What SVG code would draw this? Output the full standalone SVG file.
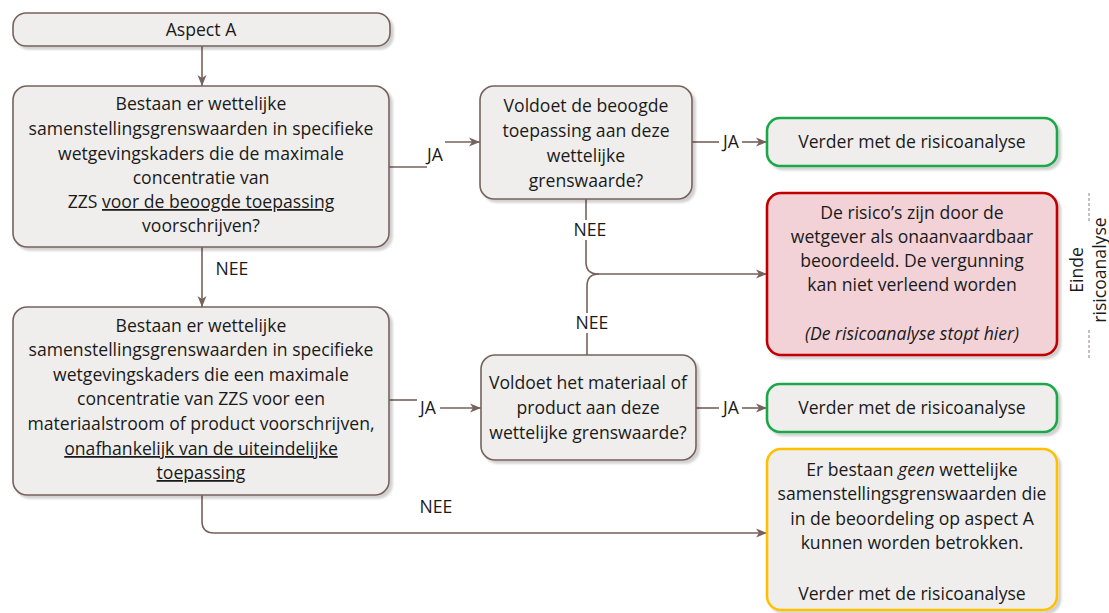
<svg xmlns="http://www.w3.org/2000/svg" width="1109" height="613" viewBox="0 0 1109 613">
<defs>
<filter id="sh" x="-5%" y="-5%" width="115%" height="120%">
<feDropShadow dx="3" dy="3" stdDeviation="1.2" flood-color="#000" flood-opacity="0.18"/>
</filter>
<marker id="ar" markerWidth="12" markerHeight="10" refX="11" refY="5" orient="auto" markerUnits="userSpaceOnUse">
<path d="M0,0.5 L11,5 L0,9.5 L3,5 Z" fill="#76625d"/>
</marker>
<style>
.box{fill:#f0eeec;stroke:#76625d;stroke-width:1.6;filter:url(#sh)}
.green{fill:#f0eeec;stroke:#1aa84a;stroke-width:2.6;filter:url(#sh)}
.red{fill:#f2d2d7;stroke:#c00000;stroke-width:2.6;filter:url(#sh)}
.yellow{fill:#f0eeec;stroke:#ffc000;stroke-width:2.6;filter:url(#sh)}
.t{font-family:"Open Sans","Noto Sans",sans-serif;font-size:17.6px;fill:#1a1a1a;text-anchor:middle}
.l{font-family:"Open Sans","Noto Sans",sans-serif;font-size:17.6px;fill:#1a1a1a;text-anchor:middle}
.c{fill:none;stroke:#76625d;stroke-width:1.6}
.u{text-decoration:underline}
.dash{stroke:#a39a95;stroke-width:1.2;stroke-dasharray:3,2}
</style>
</defs>

<g id="connectors">
<path class="c" d="M202,46 V86" marker-end="url(#ar)"/>
<path class="c" d="M389,167 H427"/>
<path class="c" d="M445,142 H480" marker-end="url(#ar)"/>
<path class="c" d="M692,142 H719"/>
<path class="c" d="M742,142 H767" marker-end="url(#ar)"/>
<path class="c" d="M586,199 V220"/>
<path class="c" d="M586,240 V262 Q586,274 598,274 H767" marker-end="url(#ar)"/>
<path class="c" d="M587,355 V333"/>
<path class="c" d="M587,313 V286 Q587,274 599,274"/>
<path class="c" d="M202,247 V307" marker-end="url(#ar)"/>
<path class="c" d="M389,400 H417"/>
<path class="c" d="M440,408 H481" marker-end="url(#ar)"/>
<path class="c" d="M696,408 H719"/>
<path class="c" d="M742,408 H767" marker-end="url(#ar)"/>
<path class="c" d="M202,495 V521 Q202,533 214,533 H767" marker-end="url(#ar)"/>
<text class="l" x="435" y="161">JA</text>
<text class="l" x="731" y="148">JA</text>
<text class="l" x="590" y="236">NEE</text>
<text class="l" x="592" y="329">NEE</text>
<text class="l" x="232" y="275">NEE</text>
<text class="l" x="428" y="414">JA</text>
<text class="l" x="731" y="414">JA</text>
<text class="l" x="436" y="513">NEE</text>
</g>

<g id="aspectA">
<rect class="box" x="13" y="13" width="377" height="33" rx="13"/>
<text class="t" x="201" y="36">Aspect A</text>
</g>

<g id="q1">
<rect class="box" x="13" y="86" width="376" height="161" rx="14"/>
<text class="t" x="201" y="110">Bestaan er wettelijke</text>
<text class="t" x="201" y="135">samenstellingsgrenswaarden in specifieke</text>
<text class="t" x="201" y="160">wetgevingskaders die de maximale</text>
<text class="t" x="201" y="184">concentratie van</text>
<text class="t" x="201" y="208">ZZS <tspan class="u">voor de beoogde toepassing</tspan></text>
<text class="t" x="201" y="232">voorschrijven?</text>
</g>

<g id="q2">
<rect class="box" x="480" y="86" width="212" height="113" rx="14"/>
<text class="t" x="586" y="112">Voldoet de beoogde</text>
<text class="t" x="586" y="137">toepassing aan deze</text>
<text class="t" x="586" y="162">wettelijke</text>
<text class="t" x="586" y="187">grenswaarde?</text>
</g>

<g id="ok1">
<rect class="green" x="767" y="118" width="290" height="48" rx="13"/>
<text class="t" x="912" y="148">Verder met de risicoanalyse</text>
</g>

<g id="stop">
<rect class="red" x="767" y="193" width="290" height="162" rx="14"/>
<text class="t" x="912" y="219">De risico’s zijn door de</text>
<text class="t" x="912" y="243">wetgever als onaanvaardbaar</text>
<text class="t" x="912" y="267">beoordeeld. De vergunning</text>
<text class="t" x="912" y="291">kan niet verleend worden</text>
<text class="t" x="912" y="340" font-style="italic">(De risicoanalyse stopt hier)</text>
</g>

<g id="einde">
<line class="dash" x1="1089" y1="193" x2="1089" y2="222"/>
<line class="dash" x1="1089" y1="330" x2="1089" y2="358"/>
<text class="t" transform="translate(1083,270) rotate(-90)">Einde</text>
<text class="t" transform="translate(1106,270) rotate(-90)">risicoanalyse</text>
</g>

<g id="q3">
<rect class="box" x="13" y="307" width="376" height="188" rx="14"/>
<text class="t" x="201" y="332">Bestaan er wettelijke</text>
<text class="t" x="201" y="356">samenstellingsgrenswaarden in specifieke</text>
<text class="t" x="201" y="381">wetgevingskaders die een maximale</text>
<text class="t" x="201" y="405">concentratie van ZZS voor een</text>
<text class="t" x="201" y="430">materiaalstroom of product voorschrijven,</text>
<text class="t" x="201" y="455"><tspan class="u">onafhankelijk van de uiteindelijke</tspan></text>
<text class="t" x="201" y="479"><tspan class="u">toepassing</tspan></text>
</g>

<g id="q4">
<rect class="box" x="481" y="355" width="215" height="105" rx="14"/>
<text class="t" x="588" y="389">Voldoet het materiaal of</text>
<text class="t" x="588" y="414">product aan deze</text>
<text class="t" x="588" y="439">wettelijke grenswaarde?</text>
</g>

<g id="ok2">
<rect class="green" x="767" y="384" width="290" height="48" rx="13"/>
<text class="t" x="912" y="414">Verder met de risicoanalyse</text>
</g>

<g id="none">
<rect class="yellow" x="767" y="449" width="290" height="161" rx="14"/>
<text class="t" x="912" y="476">Er bestaan <tspan font-style="italic">geen</tspan> wettelijke</text>
<text class="t" x="912" y="500">samenstellingsgrenswaarden die</text>
<text class="t" x="912" y="525">in de beoordeling op aspect A</text>
<text class="t" x="912" y="549">kunnen worden betrokken.</text>
<text class="t" x="912" y="600">Verder met de risicoanalyse</text>
</g>
</svg>
